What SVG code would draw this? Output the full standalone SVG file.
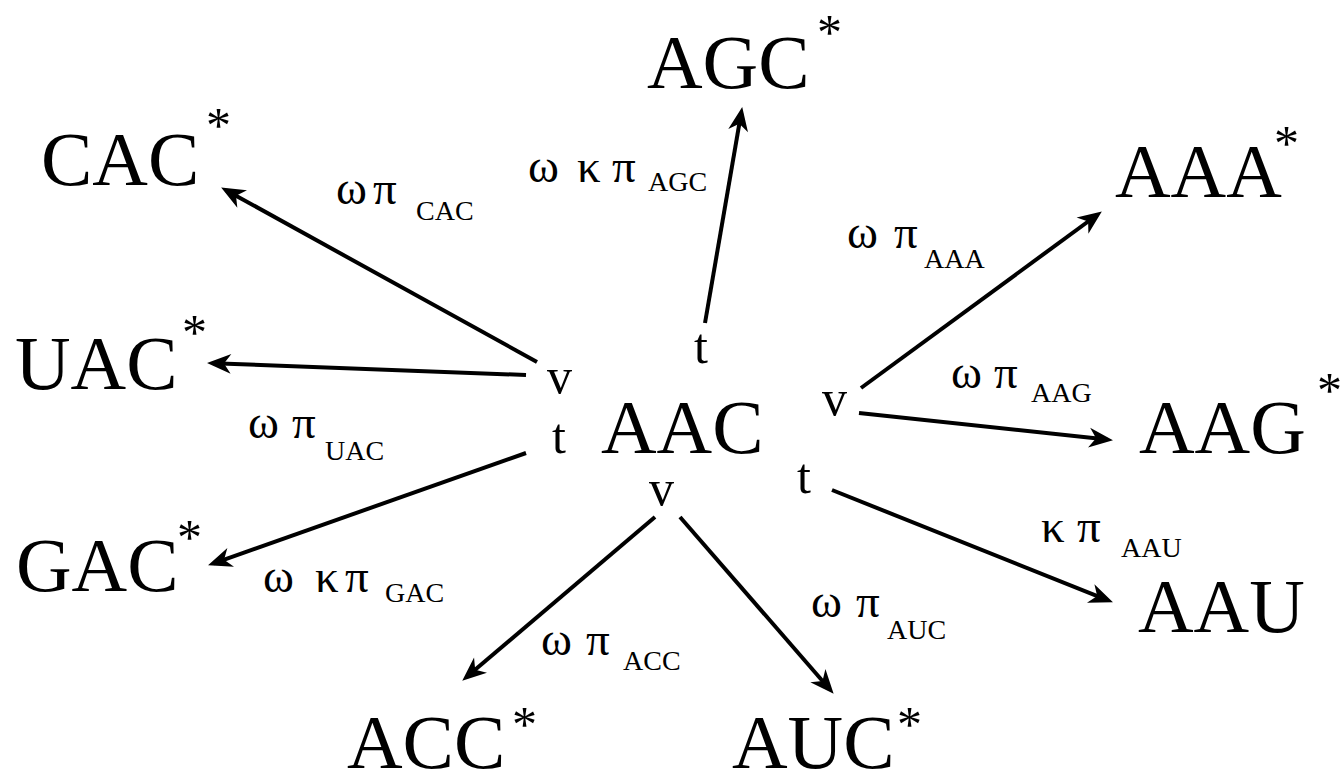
<svg xmlns="http://www.w3.org/2000/svg" width="1343" height="774" viewBox="0 0 1343 774">
<style>
.big{font-family:"Liberation Serif","Times New Roman",serif;font-size:77px;fill:#000}
.ast{font-family:"Liberation Serif","Times New Roman",serif;font-size:50px;fill:#000}
.vt{font-family:"Liberation Serif","Times New Roman",serif;font-size:50px;fill:#000}
.g{font-family:"Liberation Serif","Times New Roman",serif;font-size:47px;fill:#000}
.s{font-size:28px}
.edge{stroke:#000;stroke-width:4;fill:none;marker-end:url(#ah)}
</style>
<defs>
<marker id="ah" markerUnits="userSpaceOnUse" markerWidth="40" markerHeight="30" refX="20" refY="15" orient="auto" overflow="visible">
<path d="M26,15 L2,5 L9,15 L2,25 Z" fill="#000"/>
</marker>
</defs>
<g id="connectors">
<path class="edge" d="M537,362 L226.4,190.4"/>
<path class="edge" d="M526,375 L213,363.2"/>
<path class="edge" d="M526,453 L213.7,563.3"/>
<path class="edge" d="M705,323 L741.2,112.9"/>
<path class="edge" d="M861,388 L1097,215"/>
<path class="edge" d="M859,413 L1107,439.5"/>
<path class="edge" d="M832,490 L1107.4,600.1"/>
<path class="edge" d="M655,517 L466.8,676.8"/>
<path class="edge" d="M680,517 L829.7,689.2"/>
</g>
<g id="edge-labels">
<text class="g" y="204"><tspan x="336">ω</tspan><tspan x="373">π</tspan><tspan class="s" x="416" y="220">CAC</tspan></text>
<text class="g" y="182"><tspan x="528">ω</tspan><tspan x="577">κ</tspan><tspan x="612">π</tspan><tspan class="s" x="648" y="191">AGC</tspan></text>
<text class="g" y="248"><tspan x="847">ω</tspan><tspan x="894">π</tspan><tspan class="s" x="924" y="268">AAA</tspan></text>
<text class="g" y="388"><tspan x="951">ω</tspan><tspan x="994">π</tspan><tspan class="s" x="1031" y="402">AAG</tspan></text>
<text class="g" y="438"><tspan x="248">ω</tspan><tspan x="292">π</tspan><tspan class="s" x="325" y="460">UAC</tspan></text>
<text class="g" y="592"><tspan x="263">ω</tspan><tspan x="315">κ</tspan><tspan x="345">π</tspan><tspan class="s" x="385" y="602">GAC</tspan></text>
<text class="g" y="655"><tspan x="541">ω</tspan><tspan x="586">π</tspan><tspan class="s" x="623" y="670">ACC</tspan></text>
<text class="g" y="617"><tspan x="811">ω</tspan><tspan x="856">π</tspan><tspan class="s" x="887" y="639">AUC</tspan></text>
<text class="g" y="542"><tspan x="1041">κ</tspan><tspan x="1077">π</tspan><tspan class="s" x="1121" y="557">AAU</tspan></text>
</g>
<g id="node-AAC">
<text class="big" x="601" y="453">AAC</text>
<text class="vt" x="547" y="393">v</text>
<text class="vt" x="552" y="453">t</text>
<text class="vt" x="694" y="363">t</text>
<text class="vt" x="822" y="415">v</text>
<text class="vt" x="797" y="493">t</text>
<text class="vt" x="649" y="505">v</text>
</g>
<g id="node-CAC"><text class="big" x="41" y="185">CAC</text><text class="ast" x="206" y="142">*</text></g>
<g id="node-AGC"><text class="big" x="647" y="88">AGC</text><text class="ast" x="817" y="49">*</text></g>
<g id="node-AAA"><text class="big" x="1115" y="197">AAA</text><text class="ast" x="1274" y="160">*</text></g>
<g id="node-UAC"><text class="big" x="15" y="389">UAC</text><text class="ast" x="182" y="349">*</text></g>
<g id="node-AAG"><text class="big" x="1139" y="453">AAG</text><text class="ast" x="1317" y="407">*</text></g>
<g id="node-GAC"><text class="big" x="16" y="591">GAC</text><text class="ast" x="177" y="554">*</text></g>
<g id="node-AAU"><text class="big" x="1138" y="632">AAU</text></g>
<g id="node-ACC"><text class="big" x="347" y="768">ACC</text><text class="ast" x="512" y="741">*</text></g>
<g id="node-AUC"><text class="big" x="732" y="768">AUC</text><text class="ast" x="897" y="741">*</text></g>
</svg>
